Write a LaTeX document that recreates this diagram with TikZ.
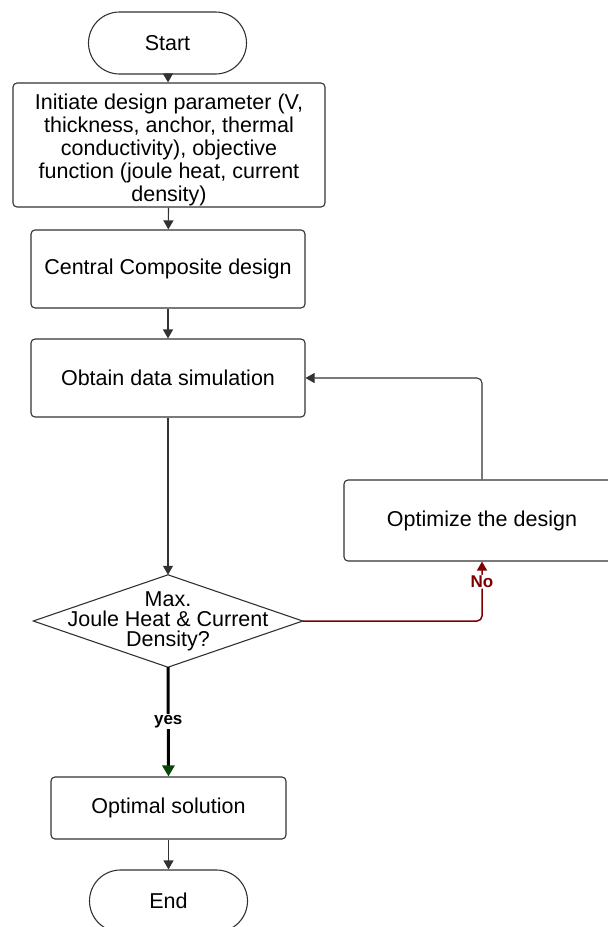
\documentclass[tikz,border=0pt]{standalone}
\usepackage{fontspec}
\setmainfont{Liberation Sans}
\usetikzlibrary{arrows.meta}
\definecolor{linegray}{RGB}{50,50,50}
\definecolor{noRed}{RGB}{125,0,0}
\definecolor{yesGreen}{RGB}{10,70,10}
\tikzset{
  box/.style={draw=linegray, line width=1.1pt, rounded corners=4pt, align=center,
    font=\fontsize{21.5}{24.3}\selectfont, inner sep=0pt},
  term/.style={draw=linegray, line width=1.1pt, rounded corners=31pt, minimum width=158pt,
    minimum height=62pt, font=\fontsize{21.5}{24.3}\selectfont, inner sep=0pt},
  arr/.style={draw=linegray, line width=1.1pt, -{Triangle[width=10pt,length=9pt]}},
  lbl/.style={font=\bfseries\fontsize{17}{19}\selectfont, fill=white, inner sep=1pt},
}
\begin{document}
\begin{tikzpicture}[x=1pt,y=1pt]
\useasboundingbox (0,0) rectangle (608,-927);
\node[term] (start) at (167.5,-43) {Start};
\node[box, minimum width=312pt, minimum height=124pt] (init) at (169,-145) {};
\node[align=center, inner sep=0pt, font=\fontsize{21.5}{23}\selectfont] (initT)
  at (169,-150)
  {Initiate design parameter (V,\\thickness, anchor, thermal\\conductivity), objective\\function (joule heat, current\\density)};
\node[box, minimum width=274pt, minimum height=78pt] (ccd) at (168,-269) {Central Composite design};
\node[box, minimum width=274pt, minimum height=78pt] (obt) at (168,-378) {Obtain data simulation};
\node[box, minimum width=276pt, minimum height=81pt] (opt) at (482,-520.5) {Optimize the design};
\node[minimum width=269pt, minimum height=92pt, inner sep=0pt, align=center,
  font=\fontsize{21.5}{20}\selectfont] (dec) at (168,-621) {Max.\\Joule Heat \& Current\\Density?};
\draw[linegray, line width=1.1pt] (dec.west) -- (dec.north) -- (dec.east) -- (dec.south) -- cycle;
\node[box, minimum width=235pt, minimum height=62pt] (optim) at (168.5,-808) {Optimal solution};
\node[term] (endn) at (168.5,-901) {End};

\draw[arr] (start) -- (init);
\draw[arr] (init) -- (ccd);
\draw[arr] (ccd) -- (obt);
\draw[arr] (obt) -- (dec.north);
\draw[arr, rounded corners=5pt] (opt.north) |- (obt.east);
\draw[noRed, line width=1.5pt, rounded corners=5pt, -{Triangle[width=10pt,length=9pt]}]
  (dec.east) -| node[lbl, pos=0.83] (no) {No} (opt.south);
\draw[black, line width=3pt, -{Triangle[width=12pt,length=11pt,color=yesGreen]}]
  (dec.south) -- node[lbl] (yes) {yes} (optim.north);
\draw[arr] (optim) -- (endn);
\end{tikzpicture}
\end{document}
